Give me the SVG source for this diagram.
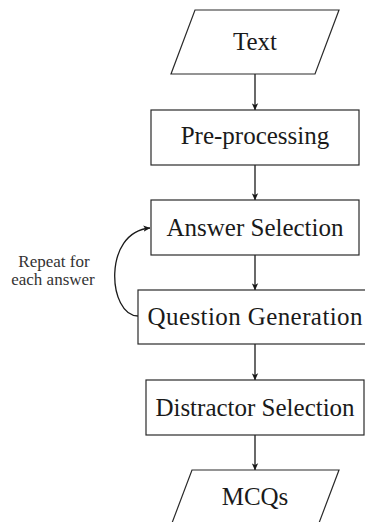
<svg xmlns="http://www.w3.org/2000/svg" width="365" height="522" viewBox="0 0 365 522">
  <defs>
    <marker id="arr" viewBox="0 0 10 10" refX="9.5" refY="5" markerWidth="7" markerHeight="7" markerUnits="userSpaceOnUse" orient="auto">
      <path d="M0,0.5 L10,5 L0,9.5 L2.5,5 Z" fill="#1a1a1a"/>
    </marker>
    <style>
      .box { fill: #ffffff; stroke: #2a2a2a; stroke-width: 1.2; }
      .lbl { font-family: "Liberation Serif", "Times New Roman", serif; font-size: 25px; fill: #1a1a1a; text-anchor: middle; }
      .side { font-family: "Liberation Serif", "Times New Roman", serif; font-size: 17px; fill: #333333; text-anchor: middle; }
      .edge { fill: none; stroke: #1a1a1a; stroke-width: 1.3; marker-end: url(#arr); }
    </style>
  </defs>
  <rect width="365" height="522" fill="#ffffff"/>

  <g id="connectors">
    <line class="edge" x1="255" y1="74" x2="255" y2="110"/>
    <line class="edge" x1="255" y1="165" x2="255" y2="200"/>
    <line class="edge" x1="255" y1="255" x2="255" y2="290"/>
    <line class="edge" x1="255" y1="344" x2="255" y2="380"/>
    <line class="edge" x1="255" y1="435" x2="255" y2="470"/>
    <path id="loop" class="edge" d="M138,316 C108,316 102,232 150,228"/>
  </g>

  <g id="node-text">
    <polygon class="box" points="195,10 339,10 315,74 171,74"/>
    <text class="lbl" x="255" y="50">Text</text>
  </g>

  <g id="node-preprocessing">
    <rect class="box" x="151" y="110" width="208" height="55"/>
    <text class="lbl" x="255" y="144">Pre-processing</text>
  </g>

  <g id="node-answer-selection">
    <rect class="box" x="151" y="200" width="208" height="55"/>
    <text class="lbl" x="255" y="236">Answer Selection</text>
  </g>

  <g id="node-question-generation">
    <rect class="box" x="138" y="290" width="234" height="54"/>
    <text class="lbl" x="255" y="325" textLength="215" lengthAdjust="spacing">Question Generation</text>
  </g>

  <g id="node-distractor-selection">
    <rect class="box" x="146" y="380" width="218" height="55"/>
    <text class="lbl" x="255" y="416">Distractor Selection</text>
  </g>

  <g id="node-mcqs">
    <polygon class="box" points="192,470 339,470 319,523 172,523"/>
    <text class="lbl" x="255" y="505">MCQs</text>
  </g>

  <g id="loop-label">
    <text class="side" x="54" y="267">Repeat for</text>
    <text class="side" x="53" y="285">each answer</text>
  </g>
</svg>
